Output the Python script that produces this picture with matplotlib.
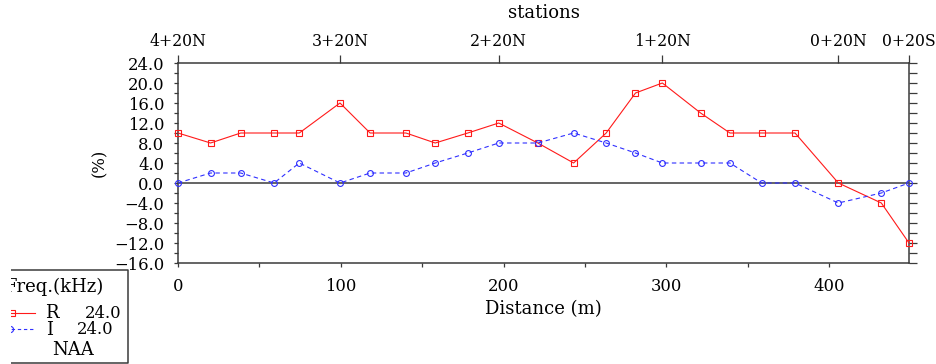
import matplotlib
matplotlib.use("Agg")
import matplotlib.pyplot as plt
from matplotlib.lines import Line2D
from matplotlib.patches import Rectangle
from matplotlib.ticker import MultipleLocator, FixedLocator, FuncFormatter, NullFormatter

# profile readings along the line
distance = [0, 20, 38.5, 59, 74.5, 99.5, 118, 140, 158, 178, 197, 221,
            243, 263, 281, 297.5, 321, 339, 358.5, 379, 405.6, 432, 449]
real_pct = [10, 8, 10, 10, 10, 16, 10, 10, 8, 10, 12, 8,
            4, 10, 18, 20, 14, 10, 10, 10, 0, -4, -12]
imag_pct = [0, 2, 2, 0, 4, 0, 2, 2, 4, 6, 8, 8,
            10, 8, 6, 4, 4, 4, 0, 0, -4, -2, 0]

station_dist = [0, 99.5, 197, 297.5, 405.6, 449]
station_names = ["4+20N", "3+20N", "2+20N", "1+20N", "0+20N", "0+20S"]

freq_khz = 24.0
transmitter = "NAA"

W, H = 937, 364
FONT = "DejaVu Serif"
FS = 11.8      # numbers
FS_ST = 11.3   # station names
FS_W = 13      # words
EDGE = "#3a3a3a"
RED = "#ff1a1a"
BLUE = "#3030ff"

plt.rcParams["font.family"] = FONT
plt.rcParams["axes.unicode_minus"] = True

fig = plt.figure(figsize=(W / 100, H / 100), dpi=100)
ax = fig.add_axes([178 / W, (H - 263) / H, 731 / W, 200 / H])


def fx(px):
    return px / W


def fy(py):
    return 1 - py / H


ax.plot(distance, real_pct, color=RED, lw=0.8, marker="s", ms=4.6,
        mfc="none", mec=RED, mew=0.8, zorder=3, clip_on=False)
ax.plot(distance, imag_pct, color=BLUE, lw=0.8, ls=(0, (4, 3)), marker="o",
        ms=4.2, mfc="none", mec=BLUE, mew=0.8, zorder=3, clip_on=False)
ax.axhline(0, color=EDGE, lw=1.1, zorder=2)

ax.set_xlim(0, 449)
ax.set_ylim(-16, 24)

for s in ax.spines.values():
    s.set_color(EDGE)
    s.set_linewidth(1.1)

ax.xaxis.set_major_locator(MultipleLocator(100))
ax.xaxis.set_minor_locator(FixedLocator([50, 150, 250, 350]))
ax.yaxis.set_major_locator(MultipleLocator(4))
ax.yaxis.set_minor_locator(MultipleLocator(2))
ax.yaxis.set_major_formatter(FuncFormatter(lambda v, p: f"{v:.1f}".replace("-", "\u2212")))
ax.tick_params(which="both", direction="out", length=3, width=0.9, color=EDGE,
               labelsize=FS, top=False, right=False)
ax.tick_params(axis="x", pad=8)
ax.tick_params(axis="y", pad=7)

ax.set_xlabel("Distance (m)", fontsize=FS_W)
ax.xaxis.set_label_coords(0.5, -0.185)
ax.set_ylabel("(%)", fontsize=FS)
ax.yaxis.set_label_coords(-0.096, 0.5)

# right side ticks
rax = ax.secondary_yaxis("right")
rax.yaxis.set_major_locator(MultipleLocator(2))
rax.yaxis.set_major_formatter(NullFormatter())
rax.tick_params(direction="out", length=5.5, width=0.9, color=EDGE)
rax.spines["right"].set_visible(False)

# station ticks along the top
tax = ax.secondary_xaxis("top")
tax.set_xticks(station_dist, station_names)
tax.tick_params(direction="out", length=6, width=0.9, color=EDGE,
                labelsize=FS_ST, pad=3)
tax.spines["top"].set_visible(False)
tax.set_xlabel("stations", fontsize=FS_W, labelpad=11)

# legend box, its left part cut off by the figure edge
box = Line2D([fx(11), fx(128), fx(128), fx(11)], [fy(270), fy(270), fy(362.5), fy(362.5)],
             transform=fig.transFigure, color=EDGE, lw=1.1)
fig.add_artist(box)

fig.text(fx(103), fy(287), "Freq.(kHz)", ha="right", va="center", fontsize=FS_W)

fig.add_artist(Line2D([fx(-5), fx(35)], [fy(313), fy(313)], transform=fig.transFigure,
                      color=RED, lw=0.8))
fig.add_artist(Line2D([fx(12)], [fy(313)], transform=fig.transFigure, marker="s", ms=5,
                      mfc="none", mec=RED, mew=0.8, ls="none"))
fig.add_artist(Line2D([fx(-5), fx(35)], [fy(329), fy(329)], transform=fig.transFigure,
                      color=BLUE, lw=0.8, ls=(0, (3, 2.5))))
fig.add_artist(Line2D([fx(10.5)], [fy(329)], transform=fig.transFigure, marker="o", ms=4.4,
                      mfc="none", mec=BLUE, mew=0.8, ls="none"))

fig.text(fx(45), fy(313), "R", ha="left", va="center", fontsize=FS_W)
fig.text(fx(121), fy(313), f"{freq_khz:.1f}", ha="right", va="center", fontsize=FS)
fig.text(fx(46), fy(330), "I", ha="left", va="center", fontsize=FS_W)
fig.text(fx(114), fy(330), f"{freq_khz:.1f}", ha="right", va="center", fontsize=FS)
fig.text(fx(73), fy(350), transmitter, ha="center", va="center", fontsize=FS_W)

# white strip along the left edge hides the start of the legend
fig.add_artist(Rectangle((0, 0), fx(11), fy(266), transform=fig.transFigure,
                         facecolor="white", edgecolor="none", zorder=10))

fig.savefig("out.png", dpi=100)
